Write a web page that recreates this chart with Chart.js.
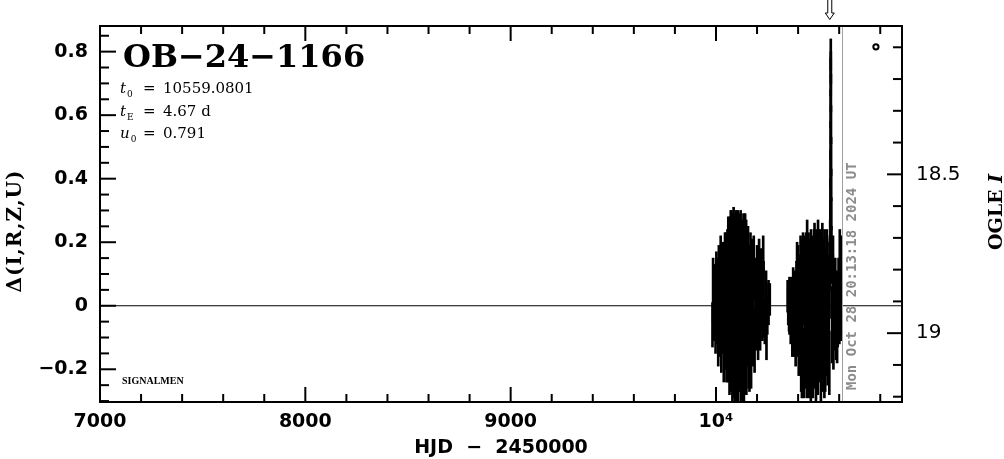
<!DOCTYPE html>
<html><head><meta charset="utf-8">
<script src="https://cdn.jsdelivr.net/npm/chart.js@4/dist/chart.umd.min.js"></script>
<style>html,body{margin:0;padding:0;background:#fff}#wrap{width:1004px;height:459px}</style>
</head><body><div id="wrap"><canvas id="c" width="1004" height="459"></canvas></div>
<script>
// ---------- data ----------
const s1Hjd = [9983,9988,9991,9995,9998,10002,10005,10008,10011,10014,10017,10020,
10023,10026,10029,10032,10035,10038,10041,10044,10047,10050,10053,10056,
10058,10060,10062,10064,10066,10068,10070,10072,10074,10076,10078,10080,
10082,10084,10086,10088,10090,10092,10094,10096,10098,10100,10102,10104,
10106,10108,10110,10112,10114,10116,10118,10120,10122,10124,10126,10128,
10130,10132,10134,10136,10138,10140,10142,10144,10146,10148,10150,10153,
10156,10159,10162,10165,10168,10171,10174,10177,10180,10184,10188,10192,
10196,10200,10205,10210,10215,10220,10226,10232,10238,10244,10250,10256,
9986,10003,10049,10052,10075,10097,10117,10131,10147,10163,10230,10246,10262];
const s1Delta = [-0.06,0.03,-0.03,0.06,-0.07,0.08,-0.02,0.03,-0.09,0.10,-0.05,0.02,
0.12,-0.10,0.06,-0.03,0.09,-0.12,0.01,0.14,-0.07,0.04,-0.14,0.11,
-0.01,0.16,-0.10,0.05,-0.16,0.13,-0.04,0.18,-0.12,0.02,0.15,-0.17,
0.08,-0.06,0.19,-0.13,0.03,-0.19,0.12,-0.02,0.16,-0.15,0.06,-0.09,
0.20,-0.18,0.01,0.13,-0.11,0.07,-0.04,0.17,-0.16,0.04,-0.08,0.11,
-0.14,0.02,0.15,-0.20,0.08,-0.05,0.18,-0.12,0.03,-0.17,0.10,-0.03,
0.13,-0.13,0.05,-0.08,0.11,-0.15,0.01,0.09,-0.06,0.12,-0.11,0.03,
-0.03,0.08,-0.08,0.10,-0.04,0.05,-0.02,0.06,-0.05,0.02,-0.03,0.01,
0.05,0.02,0.03,-0.10,0.08,-0.21,0.22,-0.05,0.21,-0.18,0.06,-0.05,0.02];
const s1Err = [0.07,0.09,0.08,0.07,0.08,0.09,0.10,0.08,0.10,0.09,0.11,0.12,
0.10,0.11,0.13,0.12,0.11,0.12,0.14,0.09,0.13,0.15,0.10,0.13,
0.15,0.12,0.14,0.16,0.12,0.15,0.16,0.12,0.15,0.17,0.14,0.13,
0.16,0.17,0.12,0.16,0.18,0.11,0.16,0.17,0.14,0.15,0.18,0.16,
0.10,0.12,0.17,0.15,0.16,0.17,0.18,0.13,0.14,0.17,0.16,0.16,
0.15,0.18,0.14,0.10,0.16,0.17,0.11,0.15,0.16,0.11,0.15,0.16,
0.12,0.13,0.14,0.15,0.12,0.11,0.14,0.12,0.13,0.10,0.10,0.12,
0.11,0.11,0.09,0.11,0.10,0.13,0.09,0.08,0.07,0.09,0.06,0.07,
0.10,0.13,0.20,0.14,0.22,0.08,0.07,0.25,0.06,0.09,0.16,0.12,0.05];

const s2Hjd = [10352,10356,10360,10364,10368,10372,10376,10380,10384,10388,10392,10396,10400,
10403,10406,10409,10412,10415,10418,10421,10424,10427,10430,10433,10436,10439,
10442,10445,10448,10451,10454,10457,10460,10463,10466,10469,10472,10475,10478,
10481,10484,10487,10490,10493,10496,10499,10502,10505,10508,10511,10514,10517,
10520,10523,10526,10529,10532,10535,10538,10541,10544,10547,10550,10553,10566,
10569,10572,10575,10578,10581,10585,10589,10593,10597,10601,10605,10608,10611,
10349,10358,10395,10418.5,10444,10462,10480,10497,10518,10528,10540,10552,10570,10590,10603];
const s2Delta = [0.00,-0.03,0.02,-0.05,0.03,-0.08,0.05,-0.06,0.02,-0.10,0.06,-0.04,0.09,
-0.12,0.03,-0.07,0.12,-0.15,0.06,-0.02,0.14,-0.18,0.08,-0.10,0.01,0.15,
-0.14,0.05,-0.06,0.11,-0.19,0.03,-0.11,0.13,-0.04,0.07,-0.16,0.02,0.14,
-0.09,0.06,-0.20,0.10,-0.02,-0.13,0.15,0.04,-0.07,0.12,-0.17,0.01,0.09,
-0.11,0.05,-0.04,0.13,-0.15,0.03,-0.08,0.10,-0.12,0.02,-0.05,0.08,-0.06,
0.05,-0.10,0.02,-0.03,0.06,-0.08,0.01,-0.04,0.07,-0.02,0.05,-0.03,0.08,
0.03,0.00,0.05,-0.22,0.10,-0.24,0.21,0.05,0.19,-0.21,0.06,-0.18,0.12,-0.12,0.15];
const s2Err = [0.06,0.05,0.06,0.07,0.06,0.08,0.07,0.10,0.09,0.09,0.08,0.12,0.10,
0.10,0.13,0.14,0.10,0.12,0.15,0.16,0.09,0.11,0.14,0.16,0.17,0.08,
0.15,0.16,0.17,0.12,0.10,0.18,0.16,0.11,0.17,0.15,0.13,0.18,0.10,
0.17,0.16,0.10,0.14,0.18,0.15,0.09,0.17,0.17,0.12,0.13,0.18,0.15,
0.16,0.16,0.17,0.11,0.12,0.15,0.14,0.12,0.13,0.14,0.13,0.12,0.12,
0.11,0.10,0.12,0.11,0.09,0.09,0.10,0.09,0.08,0.10,0.09,0.08,0.14,
0.05,0.09,0.15,0.07,0.17,0.06,0.05,0.22,0.07,0.08,0.18,0.10,0.10,0.06,0.09];

const peakHjd = [10554.5,10555.5,10556.2,10556.8,10557.3,10557.8,10558.2,10558.6,10558.9,10559.1,10559.4,10559.8,10560.2,10560.7,10561.2,10561.8,10562.5,10563.5];
const peakDelta = [0.10,0.16,0.22,0.28,0.35,0.43,0.52,0.62,0.72,0.79,0.75,0.67,0.57,0.47,0.38,0.29,0.20,0.12];
const peakErr = [0.05,0.05,0.05,0.05,0.05,0.06,0.06,0.06,0.06,0.05,0.05,0.06,0.06,0.06,0.05,0.05,0.05,0.05];

const markHjd = [10779];
const markDelta = [0.815];

const xLabelTicks = [7000, 8000, 9000, 10000];
const yLabelTicks = [-0.2, 0, 0.2, 0.4, 0.6, 0.8];
const magLabelTicks = [18.5, 19];

const T0 = 10559.0801, TE = 4.67, U0 = 0.791;
const NOW_HJD = 10612.3;
const X_MIN = 7000, X_MAX = 10906;
const Y_MIN = -0.303, Y_MAX = 0.8807;
const MAG_ZERO = 18.9137;   // OGLE I magnitude at Delta = 0
const ZERO_LEVEL = 0;

// ---------- build ----------
function bars(h, d, e) { return h.map((v, i) => ({ x: v, y: [d[i] - e[i], d[i] + e[i]] })); }
const barStyle = { type: 'bar', backgroundColor: '#000', borderWidth: 0, barThickness: 2, grouped: false, xAxisID: 'x', yAxisID: 'y' };

function fmtY(v) {
  if (Math.abs(v) < 1e-9) return '0';
  return (v < 0 ? '\u2212' : '') + Math.abs(v).toFixed(1);
}

const overlay = {
  id: 'overlay',
  afterDatasetsDraw(chart) {
    const { ctx, chartArea: a, scales } = chart;
    const x = scales.x, y = scales.y, y2 = scales.y2;
    const L = (x1, y1, x2, y2_) => { ctx.beginPath(); ctx.moveTo(x1, y1); ctx.lineTo(x2, y2_); ctx.stroke(); };
    ctx.save();
    // "now" line
    const nx = Math.round(x.getPixelForValue(NOW_HJD)) + 0.5;
    ctx.strokeStyle = '#a0a0a0'; ctx.lineWidth = 1;
    L(nx, a.top, nx, a.bottom);
    ctx.save();
    ctx.translate(nx + 13, a.bottom - 12);
    ctx.rotate(-Math.PI / 2);
    ctx.font = 'bold 14px "DejaVu Sans Mono"';
    ctx.fillStyle = '#8c8c8c';
    ctx.textAlign = 'left'; ctx.textBaseline = 'alphabetic';
    ctx.fillText('Mon Oct 28 20:13:18 2024 UT', 0, 0);
    ctx.restore();

    // frame
    ctx.strokeStyle = '#000'; ctx.lineWidth = 2;
    ctx.strokeRect(a.left, a.top, a.right - a.left, a.bottom - a.top);
    // x ticks bottom & top
    for (let v = X_MIN; v <= X_MAX; v += 200) {
      const px = x.getPixelForValue(v);
      const len = (v % 1000 === 0) ? 15 : 8;
      L(px, a.bottom, px, a.bottom - len);
      L(px, a.top, px, a.top + len);
    }
    // left ticks
    for (let k = -6; k <= 17; k++) {
      const v = k * 0.05;
      if (v < Y_MIN || v > Y_MAX) continue;
      const py = y.getPixelForValue(v);
      const len = (k % 4 === 0) ? 16 : 9;
      L(a.left, py, a.left + len, py);
    }
    // right ticks (magnitudes)
    for (let k = 181; k <= 192; k++) {
      const m = k / 10;
      const py = y2.getPixelForValue(m);
      if (py < a.top || py > a.bottom) continue;
      const len = (k % 5 === 0) ? 15 : 9;
      L(a.right, py, a.right - len, py);
    }
    // arrow at t0
    const ax = x.getPixelForValue(T0) - 1;
    ctx.lineWidth = 1;
    L(ax - 2, 0, ax - 2, 13); L(ax + 2, 0, ax + 2, 13);
    ctx.beginPath(); ctx.moveTo(ax - 4.5, 13); ctx.lineTo(ax - 2, 13); ctx.moveTo(ax + 2, 13); ctx.lineTo(ax + 4.5, 13);
    ctx.moveTo(ax - 4.5, 13); ctx.lineTo(ax, 19.5); ctx.lineTo(ax + 4.5, 13); ctx.stroke();

    // texts
    ctx.fillStyle = '#000'; ctx.textAlign = 'left'; ctx.textBaseline = 'alphabetic';
    ctx.font = 'bold 32px "DejaVu Serif"';
    ctx.fillText('OB\u221224\u22121166', 123, 67);
    const params = [['t', '0', '10559.0801', 93], ['t', 'E', TE.toFixed(2) + ' d', 115.5], ['u', '0', String(U0), 138]];
    for (const [sym, sub, val, by] of params) {
      ctx.font = 'italic 15px "DejaVu Serif"';
      ctx.fillText(sym, 120, by);
      const w = ctx.measureText(sym).width;
      ctx.font = '9px "DejaVu Serif"';
      ctx.fillText(sub, 120 + w + 1, by + 4);
      ctx.font = '15px "DejaVu Serif"';
      ctx.fillText('=', 143, by);
      ctx.fillText(val, 163, by);
    }
    ctx.font = 'bold 10px "Liberation Serif"';
    ctx.fillText('SIGNALMEN', 122, 384);

    // left axis title
    ctx.save();
    ctx.translate(21, 231);
    ctx.rotate(-Math.PI / 2);
    ctx.font = 'bold 20px "DejaVu Serif"';
    ctx.letterSpacing = '1px';
    ctx.textAlign = 'center';
    ctx.fillText('\u0394(I,R,Z,U)', 0, 0);
    ctx.restore();

    // right axis title
    ctx.save();
    ctx.translate(1002, 212);
    ctx.rotate(-Math.PI / 2);
    ctx.font = 'bold 19px "DejaVu Serif"';
    const w1 = ctx.measureText('OGLE ').width;
    ctx.font = 'bold italic 19px "DejaVu Serif"';
    const w2 = ctx.measureText('I').width;
    const start = -(w1 + w2) / 2;
    ctx.font = 'bold 19px "DejaVu Serif"';
    ctx.fillText('OGLE ', start, 0);
    ctx.font = 'bold italic 19px "DejaVu Serif"';
    ctx.fillText('I', start + w1, 0);
    ctx.restore();

    ctx.restore();
  }
};

new Chart(document.getElementById('c'), {
  type: 'bar',
  data: {
    datasets: [
      { type: 'line', data: [{ x: X_MIN, y: ZERO_LEVEL }, { x: X_MAX, y: ZERO_LEVEL }], borderColor: '#000', borderWidth: 1, pointRadius: 0, xAxisID: 'x', yAxisID: 'y' },
      Object.assign({ data: bars(s1Hjd, s1Delta, s1Err) }, barStyle),
      Object.assign({ data: bars(s2Hjd, s2Delta, s2Err) }, barStyle),
      Object.assign({ data: bars(peakHjd, peakDelta, peakErr) }, barStyle),
      { type: 'scatter', data: markHjd.map((v, i) => ({ x: v, y: markDelta[i] })), pointStyle: 'circle', pointRadius: 2.6, borderWidth: 2, borderColor: '#000', backgroundColor: '#fff', xAxisID: 'x', yAxisID: 'y' }
    ]
  },
  options: {
    responsive: false, animation: false, devicePixelRatio: 1,
    layout: { padding: { top: 25, left: 0, right: 0, bottom: 0 } },
    plugins: { legend: { display: false }, tooltip: { enabled: false }, title: { display: false } },
    scales: {
      x: {
        type: 'linear', position: 'bottom', min: X_MIN, max: X_MAX, offset: false,
        grid: { display: false, drawTicks: false }, border: { display: false },
        afterBuildTicks: s => { s.ticks = xLabelTicks.map(v => ({ value: v })); },
        afterFit: s => { s.height = 57; },
        ticks: { padding: 9, maxRotation: 0, autoSkip: false, color: '#000',
          font: { family: '"DejaVu Sans"', size: 19, weight: 'bold' },
          callback: v => v === 10000 ? '10\u2074' : String(v) },
        title: { display: true, text: 'HJD  \u2212  2450000', color: '#000', padding: { top: 0, bottom: 0 },
          font: { family: '"DejaVu Sans"', size: 19, weight: 'bold' } }
      },
      y: {
        type: 'linear', position: 'left', min: Y_MIN, max: Y_MAX, beginAtZero: false,
        grid: { display: false, drawTicks: false }, border: { display: false },
        afterBuildTicks: s => { s.ticks = yLabelTicks.map(v => ({ value: v })); },
        afterFit: s => { s.width = 100; },
        ticks: { padding: 12, color: '#000', font: { family: '"DejaVu Sans"', size: 19, weight: 'bold' }, callback: v => fmtY(v) }
      },
      y2: {
        type: 'linear', position: 'right', reverse: true,
        min: MAG_ZERO - Y_MAX, max: MAG_ZERO - Y_MIN,
        grid: { display: false, drawTicks: false }, border: { display: false },
        afterBuildTicks: s => { s.ticks = magLabelTicks.map(v => ({ value: v })); },
        afterFit: s => { s.width = 102; },
        ticks: { padding: 14, color: '#000', font: { family: '"DejaVu Sans"', size: 20 }, callback: v => String(v) }
      }
    }
  },
  plugins: [overlay]
});
</script></body></html>
